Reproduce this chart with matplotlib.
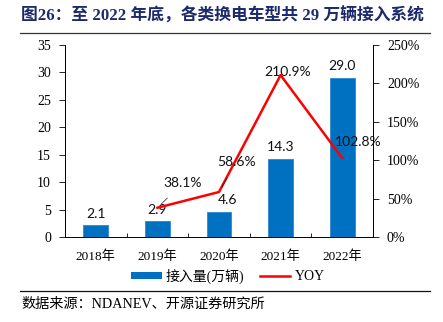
import matplotlib.pyplot as plt
from matplotlib.lines import Line2D
from matplotlib.patches import Patch
import numpy as np

years = ["2018年", "2019年", "2020年", "2021年", "2022年"]
volume = [2.1, 2.9, 4.6, 14.3, 29.0]
yoy_years = [1, 2, 3, 4]
yoy = [38.1, 58.6, 210.9, 102.8]

serif = ["Liberation Serif", "Noto Sans CJK SC"]
plt.rcParams["font.family"] = serif

fig = plt.figure(figsize=(4.43, 3.22), dpi=100)
ax = fig.add_axes([0.1467, 0.264, 0.6953, 0.596])
ax2 = ax.twinx()

x = np.arange(len(years))
ax.bar(x, volume, width=0.4, color="#0070c0", edgecolor="#2f86cf", linewidth=0.6, zorder=2)
ax.set_xlim(-0.5, len(years) - 0.5)
ax.set_ylim(0, 35)
ax.set_yticks(range(0, 36, 5))

ax2.plot(yoy_years, yoy, color="#ff0000", lw=1.8, zorder=3)
ax2.set_ylim(0, 250)
ax2.set_yticks(range(0, 251, 50))
ax2.set_yticklabels([f"{v}%" for v in range(0, 251, 50)])

# category labels centred, ticks at the boundaries
ax.set_xticks(x)
ax.set_xticklabels(years, fontsize=9.5)
ax.tick_params(axis="x", length=0, pad=10)
ax.set_xticks(np.arange(-0.5, len(years)), minor=True)
ax.tick_params(axis="x", which="minor", direction="in", length=3, width=0.6)
ax.tick_params(axis="y", labelsize=10, length=4, width=0.6, direction="out", pad=6)
ax2.tick_params(axis="y", labelsize=10, length=4, width=0.6, direction="out", pad=6)

for a in (ax, ax2):
    a.spines["top"].set_visible(False)
    for s in a.spines.values():
        s.set_linewidth(0.7)
ax2.spines["bottom"].set_visible(False)

lab = dict(family=["Lato", "DejaVu Sans"], fontsize=10, color="#111111")
offsets = [0, 0, 6, 0, 0]
for i, v in enumerate(volume):
    ax.annotate(f"{v:.1f}", (i, v), xytext=(offsets[i], 4), textcoords="offset points",
                ha="center", va="bottom", **lab)

yoy_offsets = [(18, 17.5), (12.5, 21.5), (5, 2), (11.5, 11.5)]
leaders = [True, True, False, False]
for xi, v, off, ld in zip(yoy_years, yoy, yoy_offsets, leaders):
    arrow = dict(arrowstyle="-", lw=0.5, color="#222222", shrinkA=6, shrinkB=4) if ld else None
    ax2.annotate(f"{v:.1f}%", (xi, v), xytext=off, textcoords="offset points",
                 ha="center", va="center", arrowprops=arrow, zorder=4, **lab)

fig.text(21 / 443, 1 - 16 / 322, "图26：至 2022 年底，各类换电车型共 29 万辆接入系统",
         fontsize=12.1, fontweight="bold", color="#1c2a6b", va="center", ha="left")
fig.add_artist(Line2D([20 / 443, 430 / 443], [1 - 33 / 322] * 2, color="#333333", lw=0.9))
fig.add_artist(Line2D([20 / 443, 430 / 443], [1 - 291 / 322] * 2, color="#111111", lw=0.9))

handles = [Patch(facecolor="#0070c0", edgecolor="none"),
           Line2D([0], [0], color="#ff0000", lw=1.8)]
fig.legend(handles, ["接入量(万辆)", "YOY"], loc="center", bbox_to_anchor=(228 / 443, 1 - 276 / 322),
           ncol=2, frameon=False, fontsize=10, handlelength=2.2, handleheight=0.45,
           columnspacing=1.1, handletextpad=0.3)

fig.text(21 / 443, 1 - 304 / 322, "数据来源：NDANEV、开源证券研究所", fontsize=10.2, va="center", ha="left")

fig.savefig("out.png", dpi=100)
